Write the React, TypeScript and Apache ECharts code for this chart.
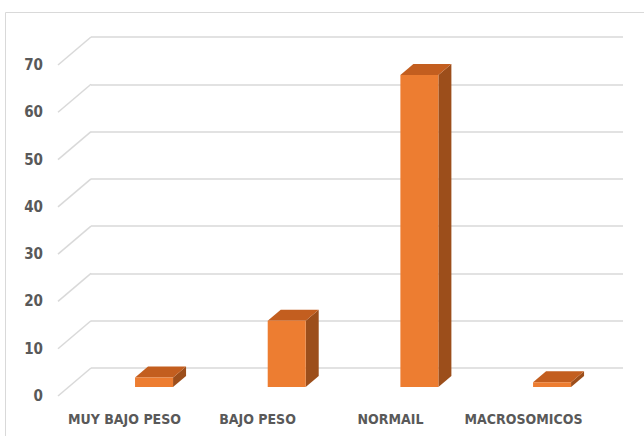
import React, { useEffect, useRef } from "react";
import * as echarts from "echarts";

// Birth-weight groups and their counts
const categories: string[] = ["MUY BAJO PESO", "BAJO PESO", "NORMAIL", "MACROSOMICOS"];
const counts: number[] = [2, 14, 66, 1];
// Value-axis ticks (also used for the side-wall guide lines)
const tickValues: number[] = [0, 10, 20, 30, 40, 50, 60, 70];

const FONT = "'Liberation Sans Narrow', 'DejaVu Sans Condensed', 'Liberation Sans', sans-serif";
const LABEL_COLOR = "#595959";
const GRID_COLOR = "#D9D9D9";

// Oblique depth of the floor/side wall and of each column
const WALL_DX = -33;
const WALL_DY = 28;
const BAR_DX = 13;
const BAR_DY = -11;
const BAR_W = 38;

export default function App() {
  const ref = useRef<HTMLDivElement>(null);

  useEffect(() => {
    if (!ref.current) return;
    const chart = echarts.init(ref.current, null, { renderer: "svg" });

    const option: echarts.EChartsOption = {
      animation: false,
      backgroundColor: "#ffffff",
      graphic: [
        {
          type: "rect",
          shape: { x: 5.5, y: 12.5, width: 700, height: 500 },
          style: { fill: "none", stroke: GRID_COLOR, lineWidth: 1 },
          silent: true,
          z: -10,
        },
      ],
      grid: [
        // back wall
        { left: 91, right: 21, top: 37, bottom: 68 },
        // front plane (axis labels)
        { left: 58, right: 54, top: 65, bottom: 40 },
        // column front faces
        { left: 87.7, right: 25.6, top: 56, bottom: 49 },
      ],
      xAxis: [
        {
          gridIndex: 0,
          type: "category",
          data: categories,
          axisLine: { show: false },
          axisTick: { show: false },
          axisLabel: { show: false },
        },
        {
          gridIndex: 1,
          type: "category",
          data: categories,
          axisLine: { show: false },
          axisTick: { show: false },
          axisLabel: {
            interval: 0,
            hideOverlap: false,
            color: LABEL_COLOR,
            fontFamily: FONT,
            fontSize: 14,
            fontWeight: "bold",
            margin: 16,
          },
        },
        {
          gridIndex: 2,
          type: "category",
          data: categories,
          show: false,
        },
      ],
      yAxis: [
        {
          gridIndex: 0,
          type: "value",
          min: 0,
          max: 70,
          interval: 10,
          axisLine: { show: false },
          axisTick: { show: false },
          axisLabel: { show: false },
          splitLine: { lineStyle: { color: GRID_COLOR, width: 1.5 } },
        },
        {
          gridIndex: 1,
          type: "value",
          min: 0,
          max: 70,
          interval: 10,
          axisLine: { show: false },
          axisTick: { show: false },
          splitLine: { show: false },
          axisLabel: {
            color: LABEL_COLOR,
            fontFamily: FONT,
            fontSize: 15,
            fontWeight: "bold",
            margin: 15,
          },
        },
        {
          gridIndex: 2,
          type: "value",
          min: 0,
          max: 70,
          interval: 10,
          show: false,
        },
      ],
      series: [
        {
          // diagonal guide lines along the side wall
          type: "custom",
          xAxisIndex: 0,
          yAxisIndex: 0,
          silent: true,
          data: tickValues.map((v) => [0, v]),
          renderItem: (params: any, api: any) => {
            const x0 = params.coordSys.x;
            const y = api.coord([0, api.value(1)])[1];
            return {
              type: "line",
              shape: { x1: x0, y1: y, x2: x0 + WALL_DX, y2: y + WALL_DY },
              style: { stroke: GRID_COLOR, lineWidth: 1.5 },
            };
          },
          z: 1,
        },
        {
          // 3D columns
          type: "custom",
          xAxisIndex: 2,
          yAxisIndex: 2,
          data: counts.map((v, i) => [i, v]),
          renderItem: (params: any, api: any) => {
            const i = api.value(0);
            const v = api.value(1);
            const base = api.coord([i, 0]);
            const top = api.coord([i, v]);
            const xl = base[0] - BAR_W / 2;
            const xr = base[0] + BAR_W / 2;
            const yb = base[1];
            const yt = top[1];
            return {
              type: "group",
              children: [
                {
                  type: "polygon",
                  shape: {
                    points: [
                      [xr, yt],
                      [xr + BAR_DX, yt + BAR_DY],
                      [xr + BAR_DX, yb + BAR_DY],
                      [xr, yb],
                    ],
                  },
                  style: { fill: "#9C4E1B" },
                },
                {
                  type: "polygon",
                  shape: {
                    points: [
                      [xl, yt],
                      [xr, yt],
                      [xr + BAR_DX, yt + BAR_DY],
                      [xl + BAR_DX, yt + BAR_DY],
                    ],
                  },
                  style: { fill: "#C35E1F" },
                },
                {
                  type: "rect",
                  shape: { x: xl, y: yt, width: BAR_W, height: yb - yt },
                  style: { fill: "#ED7D31" },
                },
              ],
            };
          },
          z: 5,
        },
      ],
    };

    chart.setOption(option);
    return () => chart.dispose();
  }, []);

  return (
    <div
      ref={ref}
      style={{ position: "fixed", left: 0, top: 0, width: 644, height: 436 }}
    />
  );
}
